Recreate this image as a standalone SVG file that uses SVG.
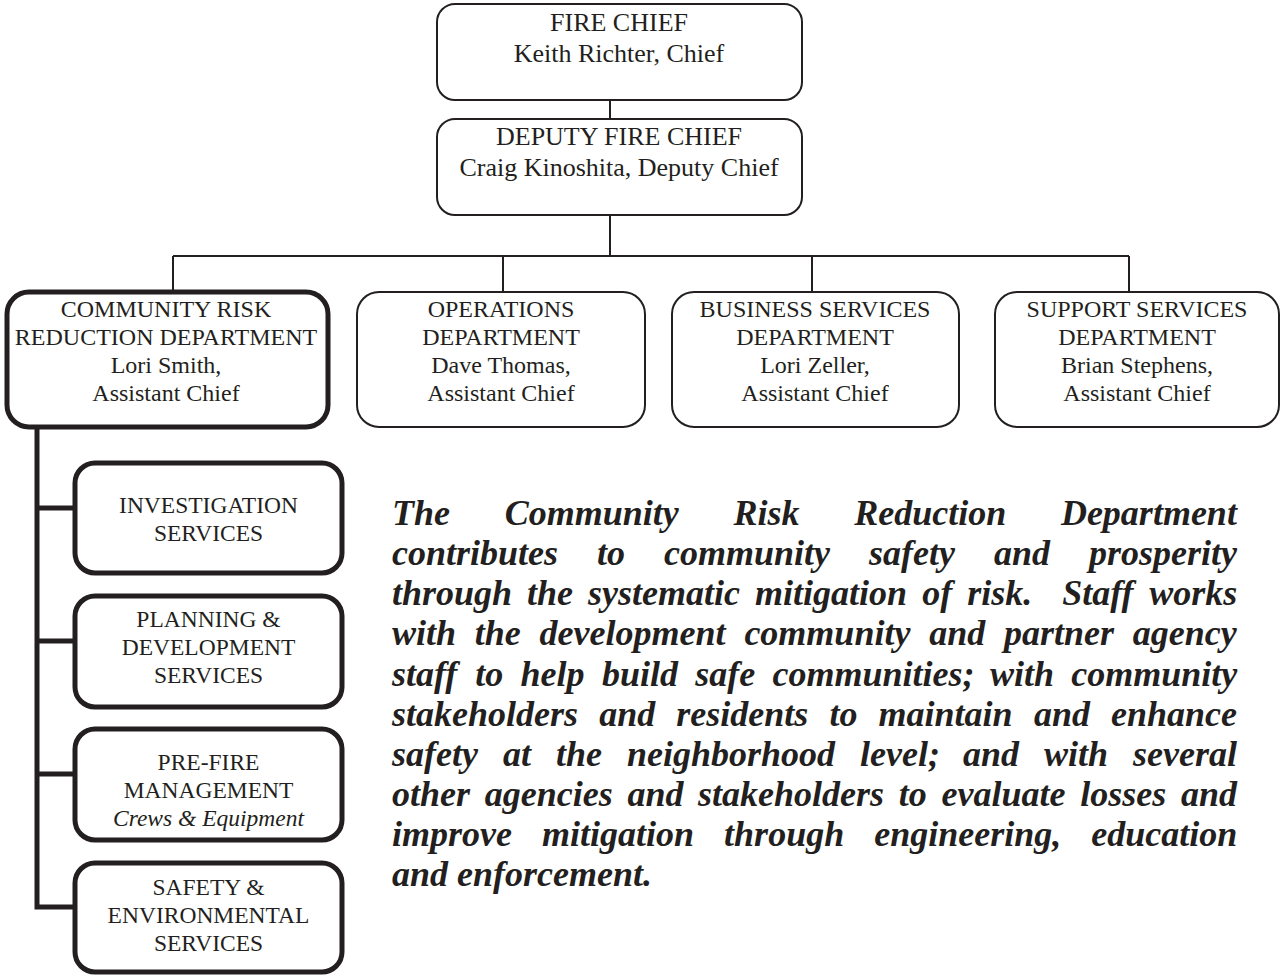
<svg xmlns="http://www.w3.org/2000/svg" width="1282" height="977" viewBox="0 0 1282 977">
  <style>
    .box { fill: #ffffff; stroke: #231f20; stroke-width: 2; }
    .thick { fill: #ffffff; stroke: #231f20; stroke-width: 5; }
    .wire { fill: none; stroke: #231f20; stroke-width: 2; }
    .wire-thick { fill: none; stroke: #231f20; stroke-width: 5; stroke-linejoin: miter; }
    text { font-family: "Liberation Serif", "Times New Roman", serif; fill: #231f20; }
    .t-top { font-size: 26px; text-anchor: middle; }
    .t-dept { font-size: 24px; text-anchor: middle; }
    .t-sub { font-size: 23.5px; text-anchor: middle; }
    .ital { font-style: italic; }
    .para { font-size: 36px; font-weight: bold; font-style: italic; }
  </style>

  <!-- connectors -->
  <g id="connectors">
    <path class="wire" d="M610 100 V118"/>
    <path class="wire" d="M610 215 V256 M173 256 H1129 M173 256 V292 M503 256 V292 M812 256 V292 M1129 256 V292"/>
    <path class="wire-thick" d="M37 427 V907 H75 M37 508 H75 M37 641 H75 M37 774 H75"/>
  </g>

  <g id="fire-chief">
    <rect class="box" x="437" y="4" width="365" height="96" rx="18"/>
    <text class="t-top" x="619" y="31">FIRE CHIEF</text>
    <text class="t-top" x="619" y="62">Keith Richter, Chief</text>
  </g>

  <g id="deputy-chief">
    <rect class="box" x="437" y="119" width="365" height="96" rx="18"/>
    <text class="t-top" x="619" y="145">DEPUTY FIRE CHIEF</text>
    <text class="t-top" x="619" y="176">Craig Kinoshita, Deputy Chief</text>
  </g>

  <g id="community-risk-reduction">
    <rect class="thick" x="7" y="292" width="321" height="135" rx="22"/>
    <text class="t-dept" x="166" y="317">COMMUNITY RISK</text>
    <text class="t-dept" x="166" y="345">REDUCTION DEPARTMENT</text>
    <text class="t-dept" x="166" y="373">Lori Smith,</text>
    <text class="t-dept" x="166" y="401">Assistant Chief</text>
  </g>

  <g id="operations">
    <rect class="box" x="357" y="292" width="288" height="135" rx="22"/>
    <text class="t-dept" x="501" y="317">OPERATIONS</text>
    <text class="t-dept" x="501" y="345">DEPARTMENT</text>
    <text class="t-dept" x="501" y="373">Dave Thomas,</text>
    <text class="t-dept" x="501" y="401">Assistant Chief</text>
  </g>

  <g id="business-services">
    <rect class="box" x="672" y="292" width="287" height="135" rx="22"/>
    <text class="t-dept" x="815" y="317">BUSINESS SERVICES</text>
    <text class="t-dept" x="815" y="345">DEPARTMENT</text>
    <text class="t-dept" x="815" y="373">Lori Zeller,</text>
    <text class="t-dept" x="815" y="401">Assistant Chief</text>
  </g>

  <g id="support-services">
    <rect class="box" x="995" y="292" width="284" height="135" rx="22"/>
    <text class="t-dept" x="1137" y="317">SUPPORT SERVICES</text>
    <text class="t-dept" x="1137" y="345">DEPARTMENT</text>
    <text class="t-dept" x="1137" y="373">Brian Stephens,</text>
    <text class="t-dept" x="1137" y="401">Assistant Chief</text>
  </g>

  <g id="investigation-services">
    <rect class="thick" x="75" y="463" width="267" height="110" rx="20"/>
    <text class="t-sub" x="208.5" y="513">INVESTIGATION</text>
    <text class="t-sub" x="208.5" y="541">SERVICES</text>
  </g>

  <g id="planning-development">
    <rect class="thick" x="75" y="596" width="267" height="111" rx="20"/>
    <text class="t-sub" x="208.5" y="627">PLANNING &amp;</text>
    <text class="t-sub" x="208.5" y="655">DEVELOPMENT</text>
    <text class="t-sub" x="208.5" y="683">SERVICES</text>
  </g>

  <g id="pre-fire-management">
    <rect class="thick" x="75" y="729" width="267" height="111" rx="20"/>
    <text class="t-sub" x="208.5" y="770">PRE-FIRE</text>
    <text class="t-sub" x="208.5" y="798">MANAGEMENT</text>
    <text class="t-sub ital" x="208.5" y="826">Crews &amp; Equipment</text>
  </g>

  <g id="safety-environmental">
    <rect class="thick" x="75" y="863" width="267" height="109" rx="20"/>
    <text class="t-sub" x="208.5" y="895">SAFETY &amp;</text>
    <text class="t-sub" x="208.5" y="923">ENVIRONMENTAL</text>
    <text class="t-sub" x="208.5" y="951">SERVICES</text>
  </g>

  <!-- mission statement, justified word by word -->
  <g id="mission-statement" class="para">
    <text class="para" y="525"><tspan x="392">The</tspan><tspan x="504.7">Community</tspan><tspan x="733.5">Risk</tspan><tspan x="854.2">Reduction</tspan><tspan x="1060.9">Department</tspan></text>
    <text class="para" y="565"><tspan x="392">contributes</tspan><tspan x="597">to</tspan><tspan x="664">community</tspan><tspan x="869">safety</tspan><tspan x="994">and</tspan><tspan x="1089">prosperity</tspan></text>
    <text class="para" y="605"><tspan x="392">through</tspan><tspan x="527.1">the</tspan><tspan x="588.1">systematic</tspan><tspan x="755.1">mitigation</tspan><tspan x="922.2">of</tspan><tspan x="967.2">risk.</tspan><tspan x="1062.2">Staff</tspan><tspan x="1149.2">works</tspan></text>
    <text class="para" y="645"><tspan x="392">with</tspan><tspan x="474.8">the</tspan><tspan x="539.6">development</tspan><tspan x="744.4">community</tspan><tspan x="929.2">and</tspan><tspan x="1004">partner</tspan><tspan x="1132.8">agency</tspan></text>
    <text class="para" y="686"><tspan x="392">staff</tspan><tspan x="475.3">to</tspan><tspan x="520.6">help</tspan><tspan x="601.9">build</tspan><tspan x="695.2">safe</tspan><tspan x="772.5">communities;</tspan><tspan x="989.9">with</tspan><tspan x="1071.2">community</tspan></text>
    <text class="para" y="726"><tspan x="392">stakeholders</tspan><tspan x="599.2">and</tspan><tspan x="676.3">residents</tspan><tspan x="829.5">to</tspan><tspan x="878.6">maintain</tspan><tspan x="1033.9">and</tspan><tspan x="1111">enhance</tspan></text>
    <text class="para" y="766"><tspan x="392">safety</tspan><tspan x="503">at</tspan><tspan x="556">the</tspan><tspan x="627">neighborhood</tspan><tspan x="860">level;</tspan><tspan x="963">and</tspan><tspan x="1044">with</tspan><tspan x="1133">several</tspan></text>
    <text class="para" y="806"><tspan x="392">other</tspan><tspan x="484.7">agencies</tspan><tspan x="627.4">and</tspan><tspan x="698.1">stakeholders</tspan><tspan x="898.8">to</tspan><tspan x="941.5">evaluate</tspan><tspan x="1080.2">losses</tspan><tspan x="1180.9">and</tspan></text>
    <text class="para" y="846"><tspan x="392">improve</tspan><tspan x="542">mitigation</tspan><tspan x="724.1">through</tspan><tspan x="874.2">engineering,</tspan><tspan x="1091.2">education</tspan></text>
    <text class="para" x="392" y="886">and enforcement.</text>
  </g>
</svg>
